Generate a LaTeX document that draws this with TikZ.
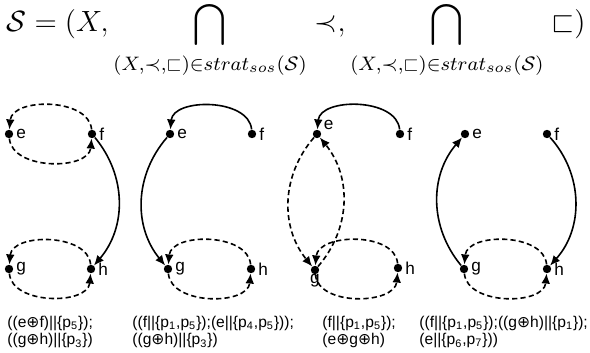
\documentclass[tikz,border=0pt]{standalone}
\usepackage{amssymb}
\usepackage{fontspec}
\setsansfont{Liberation Sans}
\newfontfamily\opfont{DejaVu Sans}
\usetikzlibrary{arrows.meta}
\newcommand{\opl}{{\opfont ⊕}}
\newcommand{\pl}[1]{p\textsubscript{#1}}
\newcommand{\stratset}{\rule{0pt}{7pt}(X,\prec,\sqsubset)\in strat_{sos}(\mathcal{S})}
\tikzset{
	vertex/.style={circle, fill, inner sep=0pt, minimum size=4.2pt},
	vlabel/.style={font=\fontsize{8.6}{10}\selectfont\sffamily, inner sep=1.2pt},
	solidarc/.style={->, line width=0.8pt},
	dasharc/.style={->, line width=0.8pt, dash pattern=on 2.6pt off 1.6pt},
	strategy/.style={anchor=north west, align=left, inner sep=0pt,
		font=\fontsize{7.8}{8.6}\selectfont\sffamily}
}
\begin{document}
\begin{tikzpicture}[x=0.5pt, y=0.5pt, >={Latex[length=5pt,width=4.4pt]}]
		\useasboundingbox (0,0) rectangle (590,353);
		%draw formula
		\node[anchor=base west, inner sep=0pt, scale=1.22, font=\fontsize{12}{14}\selectfont] (title) at (6,321)
		{$\displaystyle \mathcal{S} = (X, \bigcap_{\stratset}\prec, \bigcap_{\stratset}\sqsubset)$};
		%draw vertices
		\node[vertex, label={[vlabel]right:e}] (e1) at (9,219) {};
		\node[vertex, label={[vlabel]right:f}] (f1) at (92,219) {};
		\node[vertex, label={[vlabel]right:g}] (g1) at (9,84) {};
		\node[vertex, label={[vlabel]right:h}] (h1) at (91,84) {};
		\node[vertex, label={[vlabel]right:e}] (e2) at (170,219) {};
		\node[vertex, label={[vlabel]right:f}] (f2) at (252,219) {};
		\node[vertex, label={[vlabel]right:g}] (g2) at (168,84) {};
		\node[vertex, label={[vlabel]right:h}] (h2) at (251,84) {};
		\node[vertex, label={[vlabel]25:e}] (e3) at (317,219) {};
		\node[vertex, label={[vlabel]right:f}] (f3) at (400,219) {};
		\node[vertex, label={[vlabel, label distance=-1.5pt]below:g}] (g3) at (315,83) {};
		\node[vertex, label={[vlabel]right:h}] (h3) at (398,85) {};
		\node[vertex, label={[vlabel]right:e}] (e4) at (465,219) {};
		\node[vertex, label={[vlabel]right:f}] (f4) at (547,219) {};
		\node[vertex, label={[vlabel]right:g}] (g4) at (464,84) {};
		\node[vertex, label={[vlabel]right:h}] (h4) at (547,84) {};
		%draw first strategy
		\draw [dasharc] (f1) to[out=95, in=85] (e1);
		\draw [dasharc] (e1) to[out=-85, in=-95] (f1);
		\draw [solidarc] (f1) to[bend left=40] (h1);
		\draw [dasharc] (h1) to[out=95, in=85] (g1);
		\draw [dasharc] (g1) to[out=-85, in=-95] (h1);
		%draw second strategy
		\draw [solidarc] (f2) to[out=95, in=85] (e2);
		\draw [solidarc] (e2) to[bend right=40] (g2);
		\draw [dasharc] (h2) to[out=95, in=85] (g2);
		\draw [dasharc] (g2) to[out=-85, in=-95] (h2);
		%draw third strategy
		\draw [solidarc] (f3) to[out=95, in=85] (e3);
		\draw [dasharc] (e3) to[bend right=40] (g3);
		\draw [dasharc] (g3) to[bend right=40] (e3);
		\draw [dasharc] (h3) to[out=95, in=85] (g3);
		\draw [dasharc] (g3) to[out=-85, in=-95] (h3);
		%draw fourth strategy
		\draw [solidarc] (g4) to[bend left=40] (e4);
		\draw [solidarc] (f4) to[bend left=42] (h4);
		\draw [dasharc] (h4) to[out=95, in=85] (g4);
		\draw [dasharc] (g4) to[out=-85, in=-95] (h4);
		%draw strategy texts
		\node[strategy] (s1) at (7,37) {((e\opl f)||\{\pl{5}\});\\((g\opl h)||\{\pl{3}\})};
		\node[strategy] (s2) at (132,37) {((f||\{\pl{1},\pl{5}\});(e||\{\pl{4},\pl{5}\}));\\((g\opl h)||\{\pl{3}\})};
		\node[strategy] (s3) at (322,37) {(f||\{\pl{1},\pl{5}\});\\(e\opl g\opl h)};
		\node[strategy] (s4) at (419,37) {((f||\{\pl{1},\pl{5}\});((g\opl h)||\{\pl{1}\});\\(e||\{\pl{6},\pl{7}\}))};
	\end{tikzpicture}
\end{document}
